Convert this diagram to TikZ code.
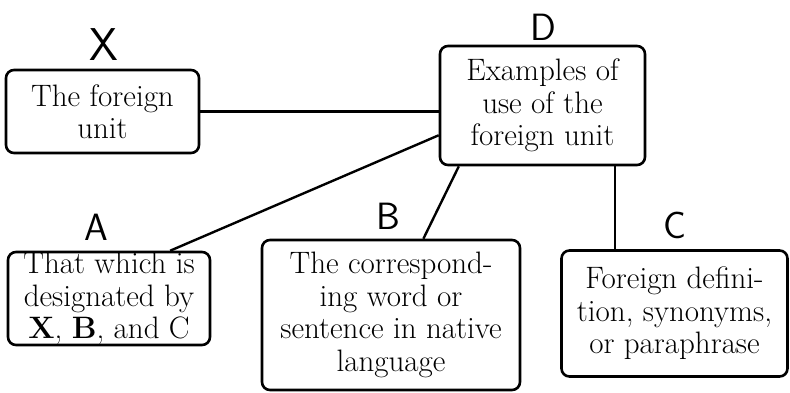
\documentclass[tikz,border=0pt]{standalone}
\usetikzlibrary{calc}
\begin{document}
\begin{tikzpicture}[x=1pt,y=-1pt,
  boxnode/.style={draw,line width=2.6pt,rounded corners=8pt,align=center,inner sep=0pt,
    font=\fontsize{31}{32.5}\selectfont},
  letter/.style={font=\sffamily\fontsize{38}{38}\selectfont,inner sep=0pt},
  link/.style={line width=2.4pt}]
\useasboundingbox (0,0) rectangle (790,392);
\node[boxnode,minimum width=193pt,minimum height=83pt] (X) at (102.5,111.5) {The foreign\\unit};
\node[boxnode,minimum width=205pt,minimum height=119pt] (D) at (542.5,105.5) {Examples of\\use of the\\foreign unit};
\node[boxnode,minimum width=202pt,minimum height=93pt] (A) at (109,298.5) {That which is\\designated by\\\textbf{X}, \textbf{B}, and C};
\node[boxnode,minimum width=258pt,minimum height=150pt] (B) at (391,315) {The correspond-\\ing word or\\sentence in native\\language};
\node[boxnode,minimum width=226pt,minimum height=126pt] (C) at (674.5,313.5) {Foreign defini-\\tion, synonyms,\\or paraphrase};
\node[letter,font=\sffamily\fontsize{46}{46}\selectfont] (lX) at (104,45) {X};
\node[letter] (lD) at (543,27) {D};
\node[letter] (lA) at (96,227) {A};
\node[letter] (lB) at (388,216) {B};
\node[letter] (lC) at (675,225) {C};
\draw[link] (X.east) -- (X.east -| D.west);
\draw[link] (D.196) -- (A.38);
\draw[link] (D.216) -- (B.67.5);
\draw[link] (D.-40.2) -- (D.-40.2 |- C.north);
\end{tikzpicture}
\end{document}
